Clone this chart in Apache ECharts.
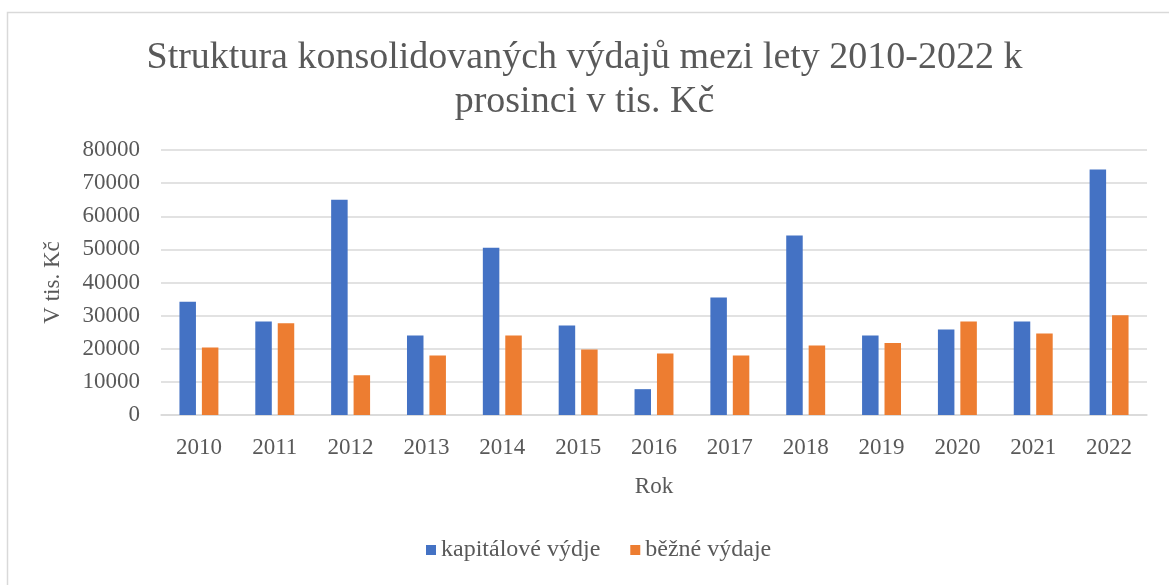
<!DOCTYPE html>
<html>
<head>
<meta charset="utf-8">
<script src="https://cdn.jsdelivr.net/npm/echarts@6/dist/echarts.min.js"></script>
<style>
  html, body { margin: 0; padding: 0; background: #fff; }
  #container { width: 1169px; height: 585px; }
</style>
</head>
<body>
<div id="container"></div>
<script>
/* data */
const years = ['2010', '2011', '2012', '2013', '2014', '2015', '2016', '2017', '2018', '2019', '2020', '2021', '2022'];
const kapitalove = [34200, 28200, 65000, 24000, 50500, 27000, 7800, 35500, 54200, 24000, 25800, 28200, 74100];
const bezne = [20400, 27700, 12000, 18000, 24000, 19800, 18600, 18000, 21000, 21700, 28200, 24600, 30100];
const seriesNames = ['kapitálové výdje', 'běžné výdaje'];

const font = "'Liberation Serif', 'Times New Roman', serif";
const textColor = '#595959';
const gridColor = '#d9d9d9';

const legendText = { fontFamily: font, fontSize: 24, color: textColor };

const myChart = echarts.init(document.getElementById('container'));
const option = {
    animation: false,
    color: ['#4472C4', '#ED7D31'],
    textStyle: { fontFamily: font, color: textColor },
    graphic: [
        {
            type: 'rect',
            shape: { x: 7.5, y: 12.5, width: 1300, height: 700 },
            style: { fill: 'none', stroke: gridColor, lineWidth: 1.5 }
        }
    ],
    title: {
        text: 'Struktura konsolidovaných výdajů mezi lety 2010-2022 k\nprosinci v tis. Kč',
        left: 'center',
        top: 31,
        textStyle: {
            fontFamily: font,
            fontWeight: 'normal',
            fontSize: 38,
            lineHeight: 44,
            color: textColor
        }
    },
    legend: {
        data: seriesNames,
        bottom: 18,
        left: 421,
        itemWidth: 10,
        itemHeight: 10,
        itemGap: 30,
        icon: 'rect',
        textStyle: legendText
    },
    grid: { left: 161, right: 22, top: 150, bottom: 170 },
    xAxis: {
        type: 'category',
        data: years,
        name: 'Rok',
        nameLocation: 'middle',
        nameGap: 60,
        nameTextStyle: { fontFamily: font, fontSize: 23, color: textColor },
        axisLine: { lineStyle: { color: gridColor, width: 1.5 } },
        axisTick: { show: false },
        axisLabel: { fontFamily: font, fontSize: 23, color: textColor, margin: 21 }
    },
    yAxis: {
        type: 'value',
        min: 0,
        max: 80000,
        interval: 10000,
        name: 'V tis. Kč',
        nameLocation: 'middle',
        nameGap: 97,
        nameRotate: 90,
        nameTextStyle: { fontFamily: font, fontSize: 23, color: textColor },
        axisLine: { show: false },
        axisTick: { show: false },
        splitLine: { lineStyle: { color: gridColor, width: 1.5 } },
        axisLabel: {
            fontFamily: font,
            fontSize: 23,
            color: textColor,
            margin: 21,
            formatter: function (v) { return String(v); }
        }
    },
    series: [
        {
            name: seriesNames[0],
            type: 'bar',
            data: kapitalove,
            barWidth: 16.5,
            barGap: '36%'
        },
        {
            name: seriesNames[1],
            type: 'bar',
            data: bezne,
            barWidth: 16.5,
            barGap: '36%'
        }
    ]
};
myChart.setOption(option, true);
</script>
</body>
</html>
